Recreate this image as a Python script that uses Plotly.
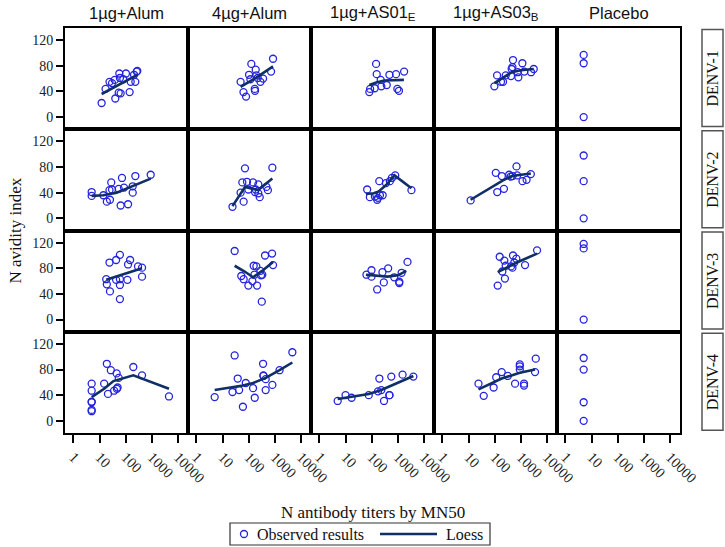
import plotly.graph_objects as go
from plotly.subplots import make_subplots

COLUMNS = ["1µg+Alum", "4µg+Alum", "1µg+AS01<sub>E</sub>", "1µg+AS03<sub>B</sub>", "Placebo"]
SEROTYPES = ["DENV-1", "DENV-2", "DENV-3", "DENV-4"]
Y_TICKS = [0, 40, 80, 120]
X_TICKS = [1, 10, 100, 1000, 10000]
X_TICK_LABELS = ["1", "10", "100", "1000", "10000"]
LEGEND_LABELS = ["Observed results", "Loess"]

# ---- DENV-1 ----
DENV1_TITER = [
    [12, 17, 24, 30, 38, 57, 60, 81, 102, 155, 233, 208, 263, 277, 40, 54, 64, 141],
    [49, 63, 79, 103, 126, 116, 185, 196, 220, 170, 174, 280, 354, 715, 850],
    [81, 87, 130, 147, 155, 220, 233, 375, 475, 850, 1730, 955, 1100],
    [97, 123, 174, 208, 263, 420, 445, 500, 475, 760, 800, 1140, 1350, 2450, 3100],
    [5, 5, 5],
]
DENV1_AVIDITY = [
    [22, 44, 55, 53, 58, 68, 61, 59, 68, 55, 55, 66, 71, 72, 29, 38, 37, 39],
    [55, 39, 32, 66, 83, 59, 74, 65, 61, 44, 41, 55, 60, 71, 91],
    [39, 44, 45, 83, 67, 58, 48, 50, 66, 67, 71, 44, 41],
    [48, 65, 55, 55, 65, 64, 75, 89, 78, 70, 62, 84, 71, 70, 75],
    [97, 84, 0],
]
DENV1_LOESS_X = [[12, 25, 55, 120, 277], [49, 200, 850], [81, 150, 300, 800, 1700], [97, 200, 450, 1000, 3100], []]
DENV1_LOESS_Y = [[36, 43, 50, 57, 66], [47, 62, 79], [50, 54, 57, 58, 58], [53, 61, 70, 73, 75], []]

# ---- DENV-2 ----
DENV2_TITER = [
    [5, 5, 14, 19, 25, 24, 30, 28, 54, 64, 72, 86, 123, 185, 185, 233, 900],
    [24, 49, 64, 72, 57, 86, 97, 147, 174, 185, 233, 233, 263, 475, 540, 800],
    [67, 85, 132, 162, 174, 206, 262, 195, 350, 495, 590, 790, 3300],
    [12, 110, 125, 225, 187, 357, 405, 480, 680, 720, 1150, 1650, 2400],
    [5, 5, 5],
]
DENV2_AVIDITY = [
    [41, 35, 36, 26, 29, 44, 45, 56, 46, 20, 63, 48, 22, 40, 50, 66, 68],
    [18, 40, 26, 78, 56, 57, 45, 56, 41, 45, 53, 39, 33, 49, 44, 79],
    [45, 33, 34, 29, 32, 36, 36, 58, 55, 58, 63, 67, 44],
    [28, 71, 41, 46, 66, 68, 65, 66, 81, 67, 58, 60, 69],
    [98, 58, 0],
]
DENV2_LOESS_X = [[5, 14, 45, 185, 900], [24, 72, 230, 800], [60, 120, 185, 354, 740, 3300], [12, 200, 450, 2400], []]
DENV2_LOESS_Y = [[35, 36, 40, 50, 62], [19, 49, 44, 62], [38, 39, 42, 52, 67, 47], [29, 59, 66, 70], []]

# ---- DENV-3 ----
DENV3_TITER = [
    [18, 19, 24, 25, 43, 43, 60, 60, 60, 60, 116, 123, 147, 295, 420, 420],
    [29, 52, 64, 97, 138, 155, 196, 165, 208, 280, 295, 316, 330, 420, 780, 850],
    [63, 98, 98, 162, 257, 290, 425, 725, 1130, 1130, 1390, 2330],
    [130, 155, 196, 245, 233, 263, 420, 500, 560, 670, 475, 1440, 4150],
    [5, 5, 5],
]
DENV3_AVIDITY = [
    [63, 55, 89, 44, 93, 62, 101, 63, 54, 32, 62, 86, 93, 83, 81, 67],
    [107, 68, 63, 53, 60, 84, 83, 70, 53, 76, 69, 28, 70, 100, 103, 85],
    [70, 77, 67, 47, 74, 58, 80, 66, 59, 57, 73, 90],
    [53, 98, 75, 64, 92, 84, 83, 100, 89, 95, 81, 85, 108],
    [118, 111, 0],
]
DENV3_LOESS_X = [[18, 90, 420], [29, 70, 147, 350, 850], [60, 150, 400, 1000, 2100], [130, 700, 4150], []]
DENV3_LOESS_Y = [[62, 71, 80], [84, 75, 66, 77, 90], [70, 68, 67, 69, 76], [74, 89, 103], []]

# ---- DENV-4 ----
DENV4_TITER = [
    [5, 5, 5, 5, 5, 5, 15, 19, 21, 27, 36, 45, 46, 49, 54, 195, 420, 4500],
    [5, 24, 29, 38, 43, 60, 77, 147, 170, 354, 365, 365, 445, 445, 800, 1510, 4650],
    [5, 10, 17, 77, 174, 233, 196, 295, 475, 475, 560, 1510, 3900],
    [24, 38, 91, 114, 185, 316, 600, 910, 910, 910, 1320, 1320, 3470, 3700],
    [5, 5, 5, 5],
]
DENV4_AVIDITY = [
    [15, 17, 29, 30, 47, 58, 58, 89, 42, 79, 47, 74, 50, 52, 67, 84, 71, 38],
    [37, 45, 102, 66, 48, 22, 59, 51, 36, 89, 71, 70, 65, 48, 56, 79, 107],
    [31, 40, 36, 40, 46, 48, 66, 31, 40, 40, 69, 72, 69],
    [58, 39, 52, 68, 76, 70, 58, 88, 85, 80, 55, 58, 76, 97],
    [98, 80, 29, 0],
]
DENV4_LOESS_X = [[5, 15, 34, 80, 195, 4500], [5, 60, 147, 445, 1510, 4650], [5, 77, 233, 3900], [24, 185, 910, 3470], []]
DENV4_LOESS_Y = [[37, 50, 62, 67, 71, 50], [48, 55, 59, 67, 79, 91], [34, 42, 48, 70], [49, 66, 75, 80], []]

ROWS = [
    (DENV1_TITER, DENV1_AVIDITY, DENV1_LOESS_X, DENV1_LOESS_Y),
    (DENV2_TITER, DENV2_AVIDITY, DENV2_LOESS_X, DENV2_LOESS_Y),
    (DENV3_TITER, DENV3_AVIDITY, DENV3_LOESS_X, DENV3_LOESS_Y),
    (DENV4_TITER, DENV4_AVIDITY, DENV4_LOESS_X, DENV4_LOESS_Y),
]

SERIF = "Liberation Serif, Times New Roman, serif"
SANS = "Liberation Sans, Arial, sans-serif"
MARKER_COLOR = "#2424e0"
LINE_COLOR = "#0f2f66"

W, H = 725, 547
L, T, R, B = 65, 28, 680, 433  # plot area in pixels
PW, PH = R - L, B - T


def px(X):
    return (X - L) / PW


def py(Y):
    return (B - Y) / PH


fig = make_subplots(rows=4, cols=5, horizontal_spacing=0, vertical_spacing=0)

for r, (tit, avi, lx, ly) in enumerate(ROWS):
    for c in range(5):
        fig.add_trace(go.Scatter(
            x=tit[c], y=avi[c], mode="markers", name=LEGEND_LABELS[0], showlegend=False,
            marker=dict(symbol="circle-open", size=7, color=MARKER_COLOR,
                        line=dict(width=1.3, color=MARKER_COLOR)),
        ), row=r + 1, col=c + 1)
        if lx[c]:
            fig.add_trace(go.Scatter(
                x=lx[c], y=ly[c], mode="lines", name=LEGEND_LABELS[1], showlegend=False,
                line=dict(color=LINE_COLOR, width=2.6),
            ), row=r + 1, col=c + 1)

fig.update_xaxes(type="log", range=[-0.32, 4.38], showline=True, mirror=True, linecolor="black",
                 linewidth=2, showgrid=False, zeroline=False, tickvals=X_TICKS, ticktext=X_TICK_LABELS,
                 tickangle=45, ticks="", showticklabels=False,
                 tickfont=dict(family=SERIF, size=14.5, color="#222"))
for c in range(5):
    fig.update_xaxes(ticks="outside", ticklen=8, tickwidth=1.5, tickcolor="black",
                     showticklabels=True, row=4, col=c + 1)

fig.update_yaxes(range=[-19, 139], showline=True, mirror=True, linecolor="black", linewidth=2,
                 showgrid=False, zeroline=False, tickvals=Y_TICKS, ticks="", showticklabels=False,
                 tickfont=dict(family=SERIF, size=14, color="#222"))
for r in range(4):
    fig.update_yaxes(ticks="outside", ticklen=7, tickwidth=1.5, tickcolor="black",
                     showticklabels=True, row=r + 1, col=1)

annotations = []
shapes = []
for c, name in enumerate(COLUMNS):
    annotations.append(dict(text=name, x=(c + 0.5) / 5, y=py(13), xref="paper", yref="paper",
                            xanchor="center", yanchor="middle", showarrow=False,
                            font=dict(family=SANS, size=16.5, color="#111")))

x0, x1 = px(702), px(723)
for r, name in enumerate(SEROTYPES):
    top = 1 - r / 4 - 0.004
    bot = 1 - (r + 1) / 4 + 0.007
    shapes.append(dict(type="rect", xref="paper", yref="paper", x0=x0, x1=x1, y0=bot, y1=top,
                       line=dict(color="#555", width=1.5), fillcolor="white"))
    annotations.append(dict(text=name, x=(x0 + x1) / 2, y=(top + bot) / 2, xref="paper", yref="paper",
                            textangle=-90, showarrow=False, xanchor="center", yanchor="middle",
                            font=dict(family=SERIF, size=16, color="#111")))

annotations.append(dict(text="N antibody titers by MN50", x=0.5, y=py(512), xref="paper", yref="paper",
                        showarrow=False, xanchor="center", yanchor="middle",
                        font=dict(family=SERIF, size=17, color="#111")))
annotations.append(dict(text="N avidity index", x=px(15), y=0.5, xref="paper", yref="paper",
                        showarrow=False, textangle=-90, xanchor="center", yanchor="middle",
                        font=dict(family=SERIF, size=17, color="#111")))

# legend box (drawn by hand so it does not push the margins)
shapes.append(dict(type="rect", xref="paper", yref="paper", x0=px(230), x1=px(490), y0=py(545), y1=py(523),
                   line=dict(color="#333", width=1.2), fillcolor="white"))
shapes.append(dict(type="circle", xref="paper", yref="paper", x0=px(240.5), x1=px(247.5),
                   y0=py(537.5), y1=py(530.5), line=dict(color=MARKER_COLOR, width=1.3)))
shapes.append(dict(type="line", xref="paper", yref="paper", x0=px(380), x1=px(437), y0=py(534), y1=py(534),
                   line=dict(color=LINE_COLOR, width=2.6)))
annotations.append(dict(text=LEGEND_LABELS[0], x=px(255), y=py(534), xref="paper", yref="paper",
                        showarrow=False, xanchor="left", yanchor="middle",
                        font=dict(family=SERIF, size=16, color="#111")))
annotations.append(dict(text=LEGEND_LABELS[1], x=px(444), y=py(534), xref="paper", yref="paper",
                        showarrow=False, xanchor="left", yanchor="middle",
                        font=dict(family=SERIF, size=16, color="#111")))

fig.update_layout(
    width=W, height=H,
    margin=dict(l=L, r=W - R, t=T, b=H - B),
    paper_bgcolor="white", plot_bgcolor="white",
    font=dict(family=SERIF, color="#111"),
    annotations=annotations, shapes=shapes,
    showlegend=False,
)

# remove the browser's default body margin so the 725x547 figure fills the window exactly
fig.write_html("out.html", config={"displayModeBar": False},
               post_script="document.body.style.margin='0';document.body.style.overflow='hidden';")
